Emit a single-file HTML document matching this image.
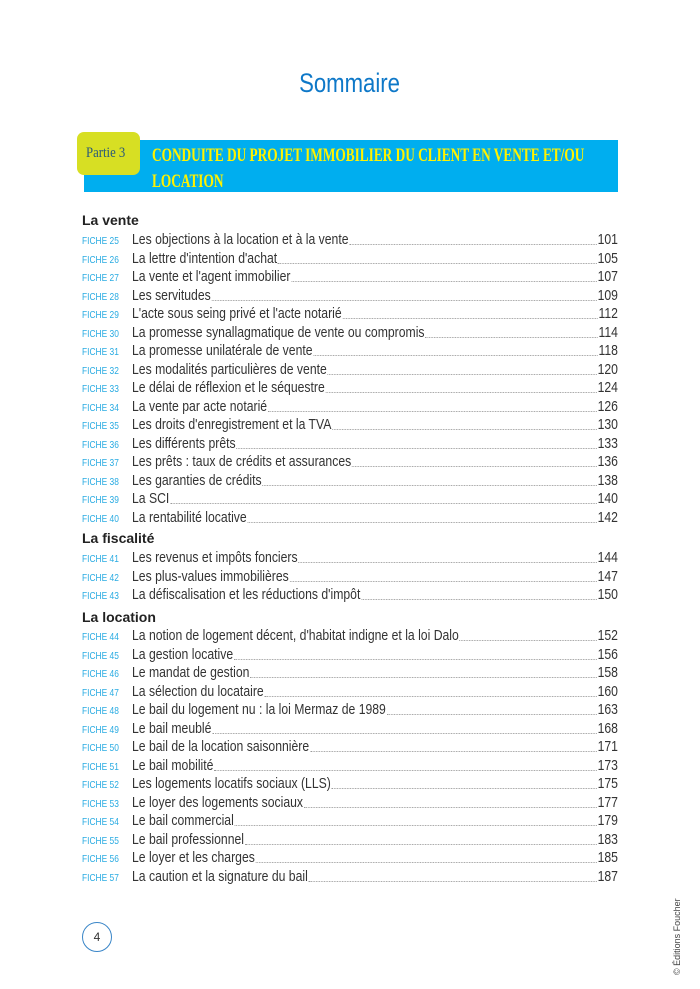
<!DOCTYPE html>
<html><head><meta charset="utf-8"><style>
body{margin:0;width:700px;height:989px;background:#fff;position:relative;overflow:hidden;font-family:"Liberation Sans",sans-serif}
.h1{position:absolute;left:0;width:700px;top:68px;text-align:center;color:#0e78c8;font-size:27px}
.h1 span{display:inline-block;transform:scaleX(.82)}
.bar{position:absolute;left:84px;top:140px;width:534px;height:52px;background:#00aeef}
.part{position:absolute;left:77px;top:132px;width:63px;height:43px;background:#d7df23;border-radius:7px}
.part span{position:absolute;left:9px;top:13px;font-family:"Liberation Serif",serif;font-size:15px;color:#2a5a7a;transform:scaleX(.85);transform-origin:left;white-space:nowrap}
.ti{position:absolute;left:152px;top:143px;color:#fff200;font-family:"Liberation Serif",serif;font-weight:bold;font-size:19px;line-height:26px;white-space:nowrap;transform:scaleX(.7);transform-origin:left}
.sec{position:absolute;left:82px;font-size:14px;color:#222;font-weight:bold}
.r{position:absolute;left:0;height:18px;width:700px}
.f{position:absolute;left:82px;top:4px;font-size:10.5px;color:#29abe2;transform:scaleX(.8);transform-origin:left;white-space:nowrap}
.t{position:absolute;left:132px;top:0;width:597px;display:flex;align-items:flex-end;font-size:15px;color:#333;transform:scaleX(.814);transform-origin:left;white-space:nowrap;line-height:18px}
.t i{flex:1;border-bottom:1px dotted #999;margin:0 1px 4px}
.circ{position:absolute;left:82px;top:922px;width:28px;height:28px;border:1.5px solid #3a86c8;border-radius:50%;text-align:center;line-height:28px;font-size:12px;color:#333}
.cp{position:absolute;left:672px;top:975px;transform:rotate(-90deg);transform-origin:left top;font-size:9px;color:#444;white-space:nowrap}
</style></head><body>
<div class="h1"><span>Sommaire</span></div>
<div class="bar"></div>
<div class="part"><span>Partie 3</span></div>
<div class="ti">CONDUITE DU PROJET IMMOBILIER DU CLIENT EN VENTE ET/OU<br>LOCATION</div>
<div class="sec" style="top:212px">La vente</div>
<div class="r" style="top:231px"><span class="f">FICHE 25</span><div class="t"><span>Les objections à la location et à la vente</span><i></i><span>101</span></div></div>
<div class="r" style="top:249.5px"><span class="f">FICHE 26</span><div class="t"><span>La lettre d'intention d'achat</span><i></i><span>105</span></div></div>
<div class="r" style="top:268px"><span class="f">FICHE 27</span><div class="t"><span>La vente et l'agent immobilier</span><i></i><span>107</span></div></div>
<div class="r" style="top:286.5px"><span class="f">FICHE 28</span><div class="t"><span>Les servitudes</span><i></i><span>109</span></div></div>
<div class="r" style="top:305px"><span class="f">FICHE 29</span><div class="t"><span>L'acte sous seing privé et l'acte notarié</span><i></i><span>112</span></div></div>
<div class="r" style="top:323.5px"><span class="f">FICHE 30</span><div class="t"><span>La promesse synallagmatique de vente ou compromis</span><i></i><span>114</span></div></div>
<div class="r" style="top:342px"><span class="f">FICHE 31</span><div class="t"><span>La promesse unilatérale de vente</span><i></i><span>118</span></div></div>
<div class="r" style="top:360.5px"><span class="f">FICHE 32</span><div class="t"><span>Les modalités particulières de vente</span><i></i><span>120</span></div></div>
<div class="r" style="top:379px"><span class="f">FICHE 33</span><div class="t"><span>Le délai de réflexion et le séquestre</span><i></i><span>124</span></div></div>
<div class="r" style="top:397.5px"><span class="f">FICHE 34</span><div class="t"><span>La vente par acte notarié</span><i></i><span>126</span></div></div>
<div class="r" style="top:416px"><span class="f">FICHE 35</span><div class="t"><span>Les droits d'enregistrement et la TVA</span><i></i><span>130</span></div></div>
<div class="r" style="top:434.5px"><span class="f">FICHE 36</span><div class="t"><span>Les différents prêts</span><i></i><span>133</span></div></div>
<div class="r" style="top:453px"><span class="f">FICHE 37</span><div class="t"><span>Les prêts : taux de crédits et assurances</span><i></i><span>136</span></div></div>
<div class="r" style="top:471.5px"><span class="f">FICHE 38</span><div class="t"><span>Les garanties de crédits</span><i></i><span>138</span></div></div>
<div class="r" style="top:490px"><span class="f">FICHE 39</span><div class="t"><span>La SCI</span><i></i><span>140</span></div></div>
<div class="r" style="top:508.5px"><span class="f">FICHE 40</span><div class="t"><span>La rentabilité locative</span><i></i><span>142</span></div></div>
<div class="sec" style="top:530px">La fiscalité</div>
<div class="r" style="top:549px"><span class="f">FICHE 41</span><div class="t"><span>Les revenus et impôts fonciers</span><i></i><span>144</span></div></div>
<div class="r" style="top:567.5px"><span class="f">FICHE 42</span><div class="t"><span>Les plus-values immobilières</span><i></i><span>147</span></div></div>
<div class="r" style="top:586px"><span class="f">FICHE 43</span><div class="t"><span>La défiscalisation et les réductions d'impôt</span><i></i><span>150</span></div></div>
<div class="sec" style="top:609px">La location</div>
<div class="r" style="top:627px"><span class="f">FICHE 44</span><div class="t"><span>La notion de logement décent, d'habitat indigne et la loi Dalo</span><i></i><span>152</span></div></div>
<div class="r" style="top:645.5px"><span class="f">FICHE 45</span><div class="t"><span>La gestion locative</span><i></i><span>156</span></div></div>
<div class="r" style="top:664px"><span class="f">FICHE 46</span><div class="t"><span>Le mandat de gestion</span><i></i><span>158</span></div></div>
<div class="r" style="top:682.5px"><span class="f">FICHE 47</span><div class="t"><span>La sélection du locataire</span><i></i><span>160</span></div></div>
<div class="r" style="top:701px"><span class="f">FICHE 48</span><div class="t"><span>Le bail du logement nu : la loi Mermaz de 1989</span><i></i><span>163</span></div></div>
<div class="r" style="top:719.5px"><span class="f">FICHE 49</span><div class="t"><span>Le bail meublé</span><i></i><span>168</span></div></div>
<div class="r" style="top:738px"><span class="f">FICHE 50</span><div class="t"><span>Le bail de la location saisonnière</span><i></i><span>171</span></div></div>
<div class="r" style="top:756.5px"><span class="f">FICHE 51</span><div class="t"><span>Le bail mobilité</span><i></i><span>173</span></div></div>
<div class="r" style="top:775px"><span class="f">FICHE 52</span><div class="t"><span>Les logements locatifs sociaux (LLS)</span><i></i><span>175</span></div></div>
<div class="r" style="top:793.5px"><span class="f">FICHE 53</span><div class="t"><span>Le loyer des logements sociaux</span><i></i><span>177</span></div></div>
<div class="r" style="top:812px"><span class="f">FICHE 54</span><div class="t"><span>Le bail commercial</span><i></i><span>179</span></div></div>
<div class="r" style="top:830.5px"><span class="f">FICHE 55</span><div class="t"><span>Le bail professionnel</span><i></i><span>183</span></div></div>
<div class="r" style="top:849px"><span class="f">FICHE 56</span><div class="t"><span>Le loyer et les charges</span><i></i><span>185</span></div></div>
<div class="r" style="top:867.5px"><span class="f">FICHE 57</span><div class="t"><span>La caution et la signature du bail</span><i></i><span>187</span></div></div>
<div class="circ">4</div>
<div class="cp">© Éditions Foucher</div>
</body></html>
